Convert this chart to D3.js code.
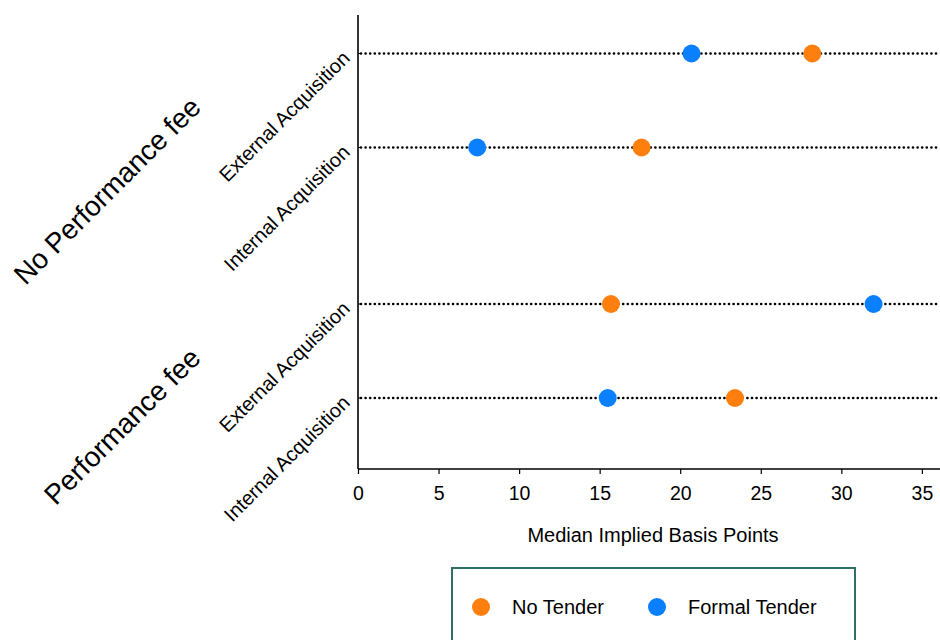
<!DOCTYPE html>
<html>
<head>
<meta charset="utf-8">
<script src="https://cdn.jsdelivr.net/npm/d3@7"></script>
<style>
  html, body { margin: 0; padding: 0; background: #fff; }
  svg { display: block; font-family: "Liberation Sans", Arial, sans-serif; }
</style>
</head>
<body>
<svg id="chart" width="940" height="640"></svg>
<script>
// ---- data ----
const groups = ["No Performance fee", "Performance fee"];
const rows = ["External Acquisition", "Internal Acquisition"];
const seriesNames = ["No Tender", "Formal Tender"];
const noTender = [28.2, 17.6, 15.7, 23.4];     // order: NoPerf-Ext, NoPerf-Int, Perf-Ext, Perf-Int
const formalTender = [20.7, 7.4, 32.0, 15.5];
const xTicks = [0, 5, 10, 15, 20, 25, 30, 35];
const xLabel = "Median Implied Basis Points";

// ---- layout ----
const W = 940, H = 640;
const plotLeft = 358, plotRight = 938, plotTop = 15, plotBottom = 469;
const colors = { "No Tender": "#ff7f0e", "Formal Tender": "#0a80ff" };

const svg = d3.select("#chart");

const x = d3.scaleLinear().domain([0, 36]).range([plotLeft, plotRight]);
const yGroup = d3.scalePoint().domain(groups).range([100.5, 351]);
const yRow = d3.scalePoint().domain(rows).range([-47, 47]);

const records = [];
groups.forEach((g, gi) => rows.forEach((r, ri) => {
  const i = gi * rows.length + ri;
  records.push({ group: g, row: r, y: yGroup(g) + yRow(r),
                 values: [{ s: "No Tender", v: noTender[i] }, { s: "Formal Tender", v: formalTender[i] }] });
}));

// dotted guide lines
svg.append("g").selectAll("line").data(records).join("line")
  .attr("x1", x(0) + 3).attr("x2", W)
  .attr("y1", d => d.y).attr("y2", d => d.y)
  .attr("stroke", "#000").attr("stroke-width", 2.7)
  .attr("stroke-linecap", "round")
  .attr("stroke-dasharray", "0,4.6");

// y axis line
svg.append("line")
  .attr("x1", plotLeft).attr("x2", plotLeft)
  .attr("y1", plotTop).attr("y2", plotBottom)
  .attr("stroke", "#000").attr("stroke-width", 1.6);

// small y ticks
svg.append("g").selectAll("line").data(records).join("line")
  .attr("x1", plotLeft).attr("x2", plotLeft + 3)
  .attr("y1", d => d.y).attr("y2", d => d.y)
  .attr("stroke", "#000").attr("stroke-width", 1);

// x axis
const xAxis = svg.append("g")
  .attr("transform", `translate(0,${plotBottom})`)
  .call(d3.axisBottom(x).tickValues(xTicks).tickSize(5).tickPadding(11.8));
xAxis.select(".domain").attr("stroke", "#000").attr("stroke-width", 1.6)
  .attr("d", `M${plotLeft},0H${plotRight + 2}`);
xAxis.selectAll(".tick line").attr("stroke", "#000").attr("stroke-width", 1.2);
xAxis.selectAll(".tick text").attr("font-size", 19.5).attr("fill", "#000")
  .style("font-family", "'Liberation Sans', Arial, sans-serif");

svg.append("text")
  .attr("x", (plotLeft + W) / 2 + 4).attr("y", 542)
  .attr("text-anchor", "middle").attr("font-size", 20).attr("fill", "#000")
  .text(xLabel);

// row labels
svg.append("g").selectAll("text").data(records).join("text")
  .attr("transform", d => `translate(351,${d.y + 6}) rotate(-45)`)
  .attr("text-anchor", "end").attr("font-size", 20).attr("fill", "#000")
  .text(d => d.row);

// group labels
svg.append("g").selectAll("text").data(groups).join("text")
  .attr("transform", (g, i) => `translate(${i === 0 ? 114 : 129},${yGroup(g) + (i === 0 ? 97 : 82)}) rotate(-45)`)
  .attr("text-anchor", "middle").attr("font-size", 28).attr("fill", "#000")
  .text(g => g);

// points
const pts = records.flatMap(d => d.values.map(v => ({ y: d.y, s: v.s, v: v.v })));
svg.append("g").selectAll("circle").data(pts).join("circle")
  .attr("cx", d => x(d.v)).attr("cy", d => d.y).attr("r", 9)
  .attr("fill", d => colors[d.s]);

// legend
const lg = svg.append("g");
lg.append("rect").attr("x", 452).attr("y", 568).attr("width", 403).attr("height", 100)
  .attr("fill", "#fff").attr("stroke", "#2f6f66").attr("stroke-width", 2);
const legX = d3.scalePoint().domain(seriesNames).range([481, 657]);
const li = lg.selectAll("g.item").data(seriesNames).join("g").attr("class", "item")
  .attr("transform", s => `translate(${legX(s)},607)`);
li.append("circle").attr("r", 9).attr("fill", s => colors[s]);
li.append("text").attr("x", 31).attr("y", 7).attr("font-size", 20).attr("fill", "#000").text(s => s);
</script>
</body>
</html>
